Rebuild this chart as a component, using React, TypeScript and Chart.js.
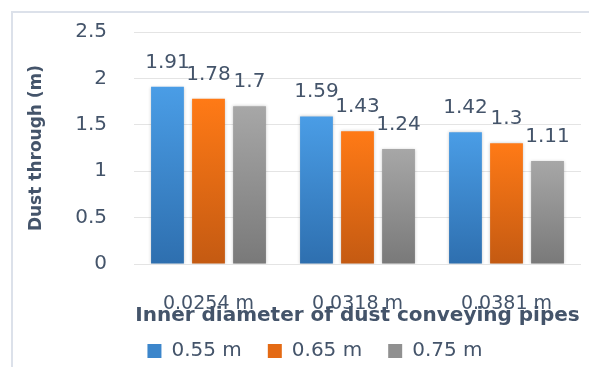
import React, { useEffect, useRef } from "react";
import { Chart, registerables } from "chart.js";

Chart.register(...registerables);

const categories = ["0.0254 m", "0.0318 m", "0.0381 m"];
const seriesNames = ["0.55 m", "0.65 m", "0.75 m"];
const values055 = [1.91, 1.59, 1.42];
const values065 = [1.78, 1.43, 1.3];
const values075 = [1.7, 1.24, 1.11];
const yTicks = [0, 0.5, 1, 1.5, 2, 2.5];

const TEXT = "#44546A";
const FONT = "'DejaVu Sans', sans-serif";

const palette = [
  { top: "#4A9DE6", bottom: "#2E6FAF", mid: "#3C86CB" },
  { top: "#FF7A16", bottom: "#C45A12", mid: "#E46A14" },
  { top: "#A7A7A7", bottom: "#797979", mid: "#909090" },
];

function barGradient(top: string, bottom: string, mid: string) {
  return (ctx: any) => {
    const chart = ctx.chart;
    const ys = chart.scales && chart.scales.y;
    if (!ys || ctx.type !== "data") return mid;
    const v = ctx.parsed ? ctx.parsed.y : ctx.raw;
    const yTop = ys.getPixelForValue(v);
    const yBase = ys.getPixelForValue(0);
    if (!isFinite(yTop) || !isFinite(yBase) || yTop === yBase) return mid;
    const g = chart.ctx.createLinearGradient(0, yTop, 0, yBase);
    g.addColorStop(0, top);
    g.addColorStop(1, bottom);
    return g;
  };
}

const framePlugin = {
  id: "frame",
  beforeDraw(chart: any) {
    const c = chart.ctx;
    c.save();
    c.strokeStyle = "#DCE1EA";
    c.lineWidth = 2;
    c.strokeRect(12, 12, 1000, 1000);
    c.restore();
  },
  beforeDatasetsDraw(chart: any) {
    const c = chart.ctx;
    c.save();
    c.shadowColor = "rgba(0,0,0,0.22)";
    c.shadowBlur = 3;
  },
  afterDatasetsDraw(chart: any) {
    const c = chart.ctx;
    c.restore();
    c.save();
    c.font = `20px ${FONT}`;
    c.fillStyle = TEXT;
    c.textAlign = "center";
    c.textBaseline = "alphabetic";
    chart.data.datasets.forEach((ds: any, di: number) => {
      const meta = chart.getDatasetMeta(di);
      meta.data.forEach((el: any, i: number) => {
        c.fillText(String(ds.data[i]), el.x, el.y - 19);
      });
    });
    c.restore();
  },
};

export default function App() {
  const ref = useRef<HTMLCanvasElement | null>(null);

  useEffect(() => {
    if (!ref.current) return;
    Chart.defaults.font.family = FONT;
    Chart.defaults.color = TEXT;
    const seriesValues = [values055, values065, values075];
    const chart = new Chart(ref.current, {
      type: "bar",
      data: {
        labels: categories,
        datasets: seriesNames.map((name, i) => ({
          label: name,
          data: seriesValues[i],
          backgroundColor: barGradient(palette[i].top, palette[i].bottom, palette[i].mid),
          borderWidth: 0,
          categoryPercentage: 0.826,
          barPercentage: 0.8,
        })),
      },
      options: {
        responsive: false,
        animation: false,
        layout: { padding: { left: 49, right: 8, top: 32, bottom: -4 } },
        plugins: {
          tooltip: { enabled: false },
          legend: {
            position: "bottom",
            labels: {
              boxWidth: 14,
              boxHeight: 14,
              padding: 26,
              color: TEXT,
              font: { size: 20, family: FONT },
              generateLabels: (ch: any) =>
                Chart.defaults.plugins.legend.labels
                  .generateLabels(ch)
                  .map((l: any, i: number) => ({
                    ...l,
                    fillStyle: palette[i].mid,
                    strokeStyle: palette[i].mid,
                    lineWidth: 0,
                  })),
            },
          },
        },
        scales: {
          x: {
            grid: { display: false },
            border: { display: false },
            ticks: { padding: 21, color: TEXT, font: { size: 19, family: FONT } },
            title: {
              display: true,
              text: "Inner diameter of dust conveying pipes",
              color: TEXT,
              font: { size: 20, weight: "bold", family: FONT },
              padding: { top: 0, bottom: -13 },
            },
            afterFit: (s: any) => {
              s.height = 51;
            },
          },
          y: {
            min: 0,
            max: 2.5,
            afterBuildTicks: (s: any) => {
              s.ticks = yTicks.map((v) => ({ value: v }));
            },
            grid: { color: "#E4E4E4", lineWidth: 1, drawTicks: false },
            border: { display: false },
            ticks: {
              padding: 27,
              color: TEXT,
              font: { size: 20, family: FONT },
              callback: (v: any) => String(v),
            },
            title: {
              display: true,
              text: "Dust through (m)",
              color: TEXT,
              font: { size: 17, weight: "bold", family: FONT },
              padding: { top: -23, bottom: 0 },
            },
            afterFit: (s: any) => {
              s.width = 85;
              s.paddingTop = 0;
              s.paddingBottom = 0;
            },
          },
        },
      },
      plugins: [framePlugin],
    });
    return () => chart.destroy();
  }, []);

  return (
    <div style={{ position: "fixed", left: 0, top: 0, width: 589, height: 367, background: "#fff" }}>
      <canvas ref={ref} width={589} height={367} />
    </div>
  );
}
